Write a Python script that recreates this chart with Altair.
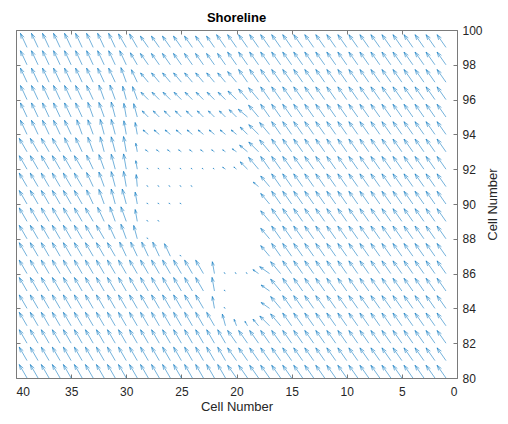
import math
import altair as alt
import pandas as pd

# ---- data -------------------------------------------------------------------
# grid columns (screen left -> right) and rows (screen top -> bottom)
X_CELLS = list(range(39, 0, -1))
Y_CELLS = list(range(99, 79, -1))

# arrow magnitude per cell, 0..9 (9 = full length, 0 = no arrow), x = 39 ... 1
MAG_ROWS = [
    "999999999" + "998888888999999" + "999999999999999",  # 99
    "999999999" + "988888888899999" + "999999999999999",  # 98
    "999999999" + "987777777789999" + "999999999999999",  # 97
    "999999999" + "886666666678999" + "999999999999999",  # 96
    "999999999" + "885555555567999" + "999999999999999",  # 95
    "999999999" + "874444444446899" + "999999999999999",  # 94
    "999999999" + "952222222236899" + "999999999999999",  # 93
    "999999999" + "951111111226999" + "999999999999999",  # 92
    "999999999" + "971111100000489" + "999999999999999",  # 91
    "999999999" + "971111000000089" + "999999999999999",  # 90
    "999999999" + "971100000000089" + "999999999999999",  # 89
    "999999999" + "981000000000089" + "999999999999999",  # 88
    "999999999" + "999981000000089" + "999999999999999",  # 87
    "999999999" + "999999997111479" + "999999999999999",  # 86
    "999999999" + "999999998100069" + "999999999999999",  # 85
    "999999999" + "999999997100069" + "999999999999999",  # 84
    "999999999" + "999999999743589" + "999999999999999",  # 83
    "999999999" + "999999999999999" + "999999999999999",  # 82
    "999999999" + "999999999999999" + "999999999999999",  # 81
    "999999999" + "999999999999999" + "999999999999999",  # 80
]

# arrow tilt from vertical towards the left, base-36 code x 5 degrees
ANG_ROWS = [
    "555555555" + "667777777777777" + "777777777777777",  # 99
    "555555555" + "567777777777777" + "777777777777777",  # 98
    "555555555" + "458888888887777" + "777777777777777",  # 97
    "555555544" + "349999999998877" + "777777777777777",  # 96
    "555555443" + "23999999999a877" + "777777777777777",  # 95
    "555554433" + "22aaaaaaaaa9987" + "777777777777777",  # 94
    "666655433" + "22bbbbbbbbba987" + "777777777777777",  # 93
    "666666543" + "22bbbbbbbba9877" + "777777777777777",  # 92
    "666666543" + "21cccccccccca87" + "777777777777777",  # 91
    "666666543" + "32ccccccccccc87" + "777777777777777",  # 90
    "666666654" + "42ccccccccccc87" + "777777777777777",  # 89
    "666666665" + "43ccccccccccc87" + "777777777777777",  # 88
    "666666666" + "55555cccccccc87" + "777777777777777",  # 87
    "666666666" + "666666662cccbb8" + "777777777777777",  # 86
    "666666666" + "666666662ccccb8" + "777777777777777",  # 85
    "666666666" + "666666662ccccb8" + "777777777777777",  # 84
    "666666666" + "666666666346898" + "777777777777777",  # 83
    "666666666" + "666666666677777" + "777777777777777",  # 82
    "666666666" + "666666666677777" + "777777777777777",  # 81
    "666666666" + "666666666677777" + "777777777777777",  # 80
]

X_TICKS = [0, 5, 10, 15, 20, 25, 30, 35, 40]
Y_TICKS = [80, 82, 84, 86, 88, 90, 92, 94, 96, 98, 100]

# ---- layout -------------------------------------------------------------------
W, H = 441, 348
PX_X = W / 40.0
PX_Y = H / 20.0
FULL_LEN = 15.5      # on-screen length of a full arrow (px)
HEAD_A = 0.33        # head length fraction
HEAD_B = 0.33        # head half-width fraction of head length

segs = []
for r, yv in enumerate(Y_CELLS):
    mrow = MAG_ROWS[r].ljust(39, "9")[:39]
    arow = ANG_ROWS[r].ljust(39, "7")[:39]
    for c, xv in enumerate(X_CELLS):
        m = int(mrow[c])
        if m == 0:
            continue
        t = math.radians(int(arow[c], 36) * 5)
        L = m / 9.0 * FULL_LEN
        sx, sy = math.sin(t), math.cos(t)          # unit dir in px (data-x grows left)
        x2 = xv + L * sx / PX_X
        y2 = yv + L * sy / PX_Y
        segs.append(dict(x=xv, y=yv, x2=x2, y2=y2, part="shaft"))
        hl = HEAD_A * L
        hw = HEAD_B * hl
        bx, by = x2 * PX_X - hl * sx, y2 * PX_Y - hl * sy
        for sgn in (1, -1):
            ex = (bx + sgn * hw * (-sy)) / PX_X
            ey = (by + sgn * hw * sx) / PX_Y
            segs.append(dict(x=x2, y=y2, x2=ex, y2=ey, part="head"))

df = pd.DataFrame(segs)

FONT = "Liberation Sans"
TXT = "#262626"
AX = "#7a7a7a"

xscale = alt.Scale(domain=[0, 40], reverse=True, nice=False, zero=False)
yscale = alt.Scale(domain=[80, 100], nice=False, zero=False)

quiver = alt.Chart(df).mark_rule(color="#0072BD", strokeWidth=0.55).encode(
    x=alt.X("x:Q", scale=xscale, axis=alt.Axis(
        orient="bottom", values=X_TICKS, format="d", title="Cell Number",
        grid=False, domain=False, tickSize=4, offset=-4, tickColor=AX,
        labelFont=FONT, labelFontSize=12, labelColor=TXT, labelPadding=8,
        titleFont=FONT, titleFontSize=13, titleFontWeight="normal",
        titleColor=TXT, titlePadding=3)),
    y=alt.Y("y:Q", scale=yscale, axis=alt.Axis(
        orient="right", values=Y_TICKS, format="d", title="Cell Number",
        grid=False, domain=False, tickSize=4, offset=-4, tickColor=AX,
        labelFont=FONT, labelFontSize=12, labelColor=TXT, labelPadding=5,
        titleFont=FONT, titleFontSize=13, titleFontWeight="normal",
        titleColor=TXT, titlePadding=17, titleAngle=270)),
    x2="x2:Q",
    y2="y2:Q",
)

frame_df = pd.DataFrame({"x": [X_TICKS[0], X_TICKS[-1]], "y": [Y_TICKS[0], Y_TICKS[-1]]})
mirror = alt.Chart(frame_df).mark_point(opacity=0).encode(
    x=alt.X("x:Q", scale=xscale, axis=alt.Axis(
        orient="top", values=X_TICKS, labels=False, title=None, grid=False,
        domain=False, tickSize=4, offset=-4, tickColor=AX)),
    y=alt.Y("y:Q", scale=yscale, axis=alt.Axis(
        orient="left", values=Y_TICKS, labels=False, title=None, grid=False,
        domain=False, tickSize=4, offset=-4, tickColor=AX)),
)

chart = alt.layer(quiver, mirror).resolve_axis(
    x="independent", y="independent"
).properties(
    width=W, height=H,
    title=alt.TitleParams("Shoreline", font=FONT, fontSize=13, fontWeight="bold",
                          color="#000000", anchor="middle", offset=-1),
    autosize=alt.AutoSizeParams(type="none"),
    padding={"left": 8, "top": 22, "right": 43, "bottom": 38},
).configure_view(stroke=AX, strokeWidth=1)

chart.save("out.html", embed_options={"renderer": "svg", "actions": False})
